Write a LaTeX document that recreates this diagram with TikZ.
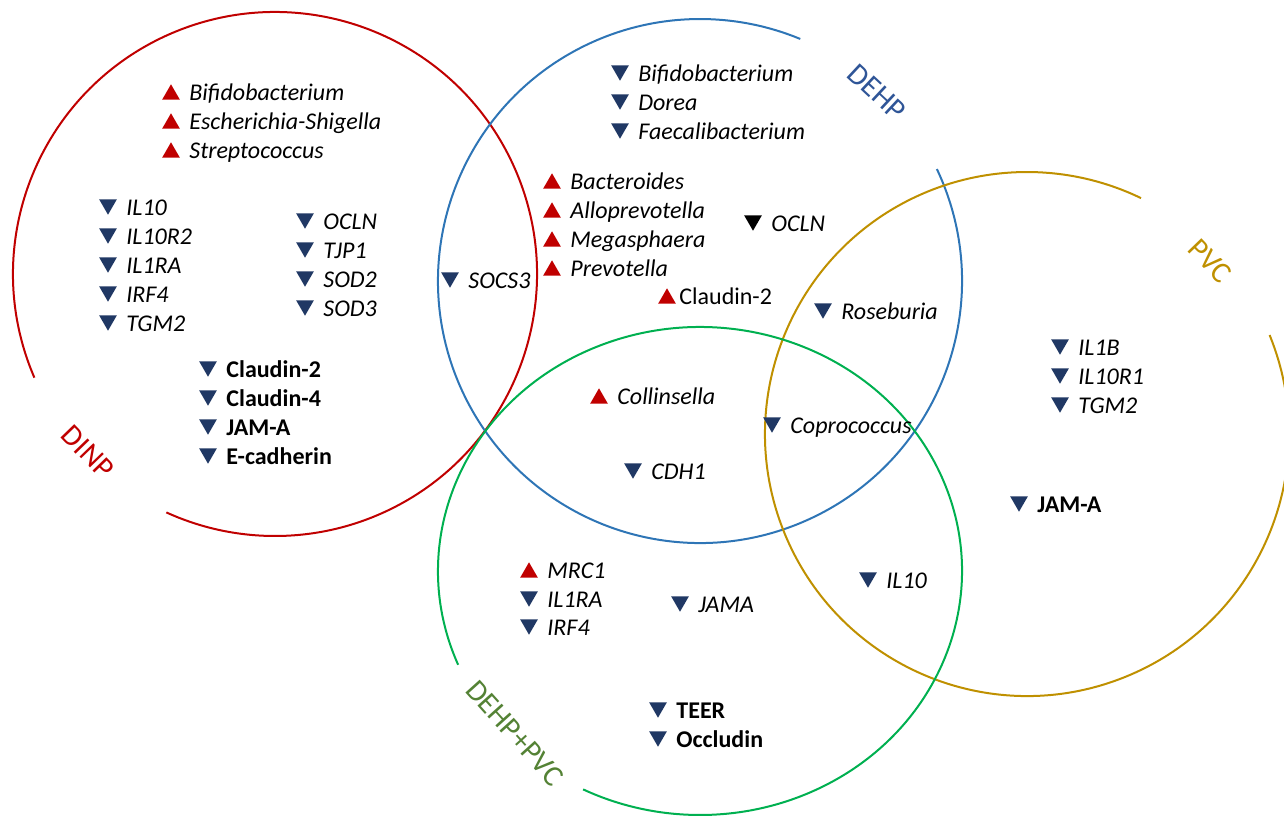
\documentclass[tikz,border=0pt]{standalone}
\usepackage{fontspec}
\setmainfont{Carlito}
\usetikzlibrary{shapes.geometric}

\definecolor{dinpred}{HTML}{C00000}
\definecolor{dehpblue}{HTML}{2E75B6}
\definecolor{dehplab}{HTML}{2F5597}
\definecolor{pvcgold}{HTML}{BF9000}
\definecolor{mixgreen}{HTML}{00B050}
\definecolor{mixlab}{HTML}{548235}
\definecolor{dnblue}{HTML}{203864}

\tikzset{
  mk/.style={regular polygon, regular polygon sides=3, minimum size=10.2pt, inner sep=0pt},
  upmk/.style={mk, fill=dinpred, yshift=-1.25pt},
  dnmk/.style={mk, shape border rotate=180, fill=dnblue, yshift=1.25pt},
  bkmk/.style={dnmk, fill=black},
  gene/.style={anchor=base west, inner sep=0pt, font=\fontsize{12}{14}\selectfont\itshape},
  ring/.style={line width=1pt},
  setlab/.style={font=\fontsize{15}{18}\selectfont},
}

% marker + name: #1 node, #2 marker style, #3/#4 position, #5 text
\newcommand{\gitem}[5]{%
  \node[#2] (#1) at (#3,#4) {};
  \node[gene] (#1t) at (#3+18,#4+8.5) {#5};}

\begin{document}
\begin{tikzpicture}[x=0.5pt,y=-0.5pt]
    \useasboundingbox (0,0) rectangle (1284,816);

    % the four sets, each open where its name sits
    \draw[ring, dinpred] (275,274) ++(156.7:262) arc[start angle=156.7, end angle=474.5, radius=262];
    \draw[ring, dehpblue] (700,281) ++(-25.3:262) arc[start angle=-25.3, end angle=292.5, radius=262];
    \draw[ring, pvcgold] (1027,434) ++(-22.2:262) arc[start angle=-22.2, end angle=295.8, radius=262];
    \draw[ring, mixgreen] (700,571) ++({262*cos(157.4)},{244*sin(157.4)})
        arc[start angle=157.4, end angle=476.5, x radius=262, y radius=244];

    \node[setlab, dinpred, rotate=-46] (ldinp) at (88,452) {DINP};
    \node[setlab, dehplab, rotate=-43] (ldehp) at (877,92) {DEHP};
    \node[setlab, pvcgold, rotate=-46] (lpvc) at (1210,261) {PVC};
    \node[setlab, mixlab, rotate=-48] (lmix) at (515,733) {DEHP+PVC};

    % DINP
    \foreach \y/\g [count=\i] in {92/Bifidobacterium,121/Escherichia-Shigella,150/Streptococcus}
        {\gitem{da\i}{upmk}{171}{\y}{\g}}
    \foreach \y/\g [count=\i] in {207/IL10,236/IL10R2,265/IL1RA,294/IRF4,323/TGM2}
        {\gitem{db\i}{dnmk}{108}{\y}{\g}}
    \foreach \y/\g [count=\i] in {221/OCLN,250/TJP1,279/SOD2,308/SOD3}
        {\gitem{dc\i}{dnmk}{305}{\y}{\g}}
    \foreach \y/\g [count=\i] in {369/Claudin-2,398/Claudin-4,427/JAM-A,456/E-cadherin}
        {\gitem{dd\i}{dnmk}{208}{\y}{\upshape\bfseries\g}}
    \gitem{socs}{dnmk}{450}{280}{SOCS3}

    % DEHP
    \foreach \y/\g [count=\i] in {73/Bifidobacterium,102/Dorea,131/Faecalibacterium}
        {\gitem{ea\i}{dnmk}{620}{\y}{\g}}
    \foreach \y/\g [count=\i] in {181/Bacteroides,210/Alloprevotella,239/Megasphaera,268/Prevotella}
        {\gitem{eb\i}{upmk}{552}{\y}{\g}}
    \gitem{ec}{bkmk}{753}{223}{OCLN}
    \node[upmk] (ed) at (667,296) {};
    \node[gene] (edt) at (679,304.5) {\upshape Claudin-2};
    \gitem{rose}{dnmk}{823}{311}{Roseburia}
    \gitem{coll}{upmk}{599}{396}{Collinsella}
    \gitem{cdh}{dnmk}{633}{471}{CDH1}
    \gitem{copr}{dnmk}{772}{425}{Coprococcus}

    % PVC
    \foreach \y/\g [count=\i] in {347/IL1B,376/IL10R1,405/TGM2}
        {\gitem{pa\i}{dnmk}{1060}{\y}{\g}}
    \gitem{pb}{dnmk}{1019}{504}{\upshape\bfseries JAM-A}
    \gitem{pc}{dnmk}{868}{580}{IL10}

    % DEHP+PVC
    \gitem{ma}{upmk}{529}{570}{MRC1}
    \foreach \y/\g [count=\i] in {599/IL1RA,627/IRF4}
        {\gitem{mb\i}{dnmk}{529}{\y}{\g}}
    \gitem{mc}{dnmk}{680}{604}{JAMA}
    \foreach \y/\g [count=\i] in {710/TEER,739/Occludin}
        {\gitem{md\i}{dnmk}{658}{\y}{\upshape\bfseries\g}}
\end{tikzpicture}
\end{document}
